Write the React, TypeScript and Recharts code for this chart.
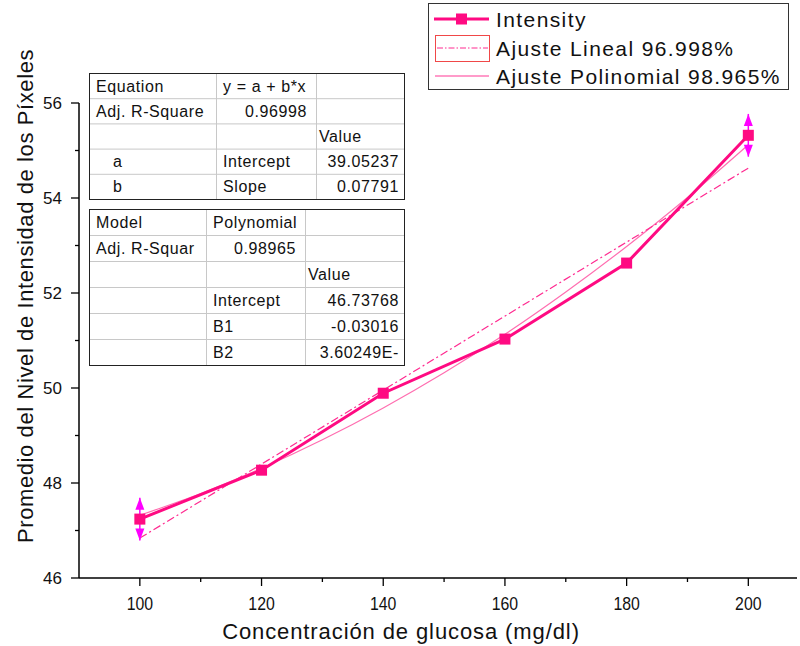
import { ComposedChart, Line, Scatter, XAxis, YAxis, ErrorBar } from 'recharts'

// measured points
const concentrations = [100, 120, 140, 160, 180, 200]
const intensity = [47.24, 48.27, 49.89, 51.03, 52.63, 55.32]

// error bars only shown on the end points
const errorX = [100, 200]
const errorY = [47.24, 55.32]
const errorSize = [0.45, 0.45]

// fits
const linearX = [100, 200]
const linearY = [46.84, 54.63]
const polyX = [100, 110, 120, 130, 140, 150, 160, 170, 180, 190, 200]
const polyY = [47.32, 47.78, 48.31, 48.91, 49.58, 50.32, 51.13, 52.02, 52.98, 54.01, 55.12]

const xTicks = [100, 110, 120, 130, 140, 150, 160, 170, 180, 190, 200]
const yTicks = [46, 47, 48, 49, 50, 51, 52, 53, 54, 55, 56]

const legendLabels = ['Intensity', 'Ajuste Lineal 96.998%', 'Ajuste Polinomial 98.965%']

const linearTable = [
  ['Equation', 'y = a + b*x', ''],
  ['Adj. R-Square', '0.96998', ''],
  ['', '', 'Value'],
  ['a', 'Intercept', '39.05237'],
  ['b', 'Slope', '0.07791'],
]

const polyTable = [
  ['Model', 'Polynomial', ''],
  ['Adj. R-Squar', '0.98965', ''],
  ['', '', 'Value'],
  ['', 'Intercept', '46.73768'],
  ['', 'B1', '-0.03016'],
  ['', 'B2', '3.60249E-'],
]

const PINK = '#FF0A82'
const MAGENTA = '#FF00FF'
const FONT = "'Liberation Sans', Arial, sans-serif"

const dataPoints = concentrations.map((x, i) => ({ x, y: intensity[i] }))
const errorPoints = errorX.map((x, i) => ({ x, y: errorY[i], err: errorSize[i] }))
const arrowUp = errorX.map((x, i) => ({ x, y: errorY[i] + errorSize[i] }))
const arrowDown = errorX.map((x, i) => ({ x, y: errorY[i] - errorSize[i] }))
const linearData = linearX.map((x, i) => ({ x, y: linearY[i] }))
const polyData = polyX.map((x, i) => ({ x, y: polyY[i] }))

function XTick(props: any) {
  const { x, y, payload } = props
  const major = payload.value % 20 === 0
  return (
    <g>
      <line x1={x} y1={y} x2={x} y2={y + (major ? 8 : 4)} stroke="#000" strokeWidth={1.3} />
      {major && (
        <text x={x} y={y + 32} textAnchor="middle" fontSize={18} fill="#111" fontFamily={FONT}
          transform={`translate(${x} 0) scale(0.88 1) translate(${-x} 0)`}>
          {payload.value}
        </text>
      )}
    </g>
  )
}

function YTick(props: any) {
  const { x, y, payload } = props
  const major = payload.value % 2 === 0
  return (
    <g>
      <line x1={x} y1={y} x2={x - (major ? 8 : 4)} y2={y} stroke="#000" strokeWidth={1.3} />
      {major && (
        <text x={x - 17} y={y + 6} textAnchor="end" fontSize={17} fill="#111" fontFamily={FONT}>
          {payload.value}
        </text>
      )}
    </g>
  )
}

function SquareDot(props: any) {
  const { cx, cy } = props
  if (cx == null || cy == null) return null
  return <rect x={cx - 5.5} y={cy - 5.5} width={11} height={11} fill={PINK} />
}

function ArrowUp(props: any) {
  const { cx, cy } = props
  return <polygon points={`${cx},${cy} ${cx - 4.5},${cy + 12} ${cx + 4.5},${cy + 12}`} fill={MAGENTA} />
}

function ArrowDown(props: any) {
  const { cx, cy } = props
  return <polygon points={`${cx},${cy} ${cx - 4.5},${cy - 12} ${cx + 4.5},${cy - 12}`} fill={MAGENTA} />
}

function StatsTable({ rows, left, top, cols, rowH }: { rows: string[][]; left: number; top: number; cols: number[]; rowH: number }) {
  const edges = [left, ...cols]
  const right = edges[edges.length - 1]
  const bottom = top + rowH * rows.length
  return (
    <g fontFamily={FONT} fontSize={16} fill="#111" letterSpacing={0.6}>
      <rect x={left + 0.5} y={top + 0.5} width={right - left} height={bottom - top} fill="#fff" stroke="#222" />
      {rows.slice(1).map((_, i) => (
        <line key={'h' + i} x1={left + 1} x2={right} y1={top + rowH * (i + 1) + 0.5} y2={top + rowH * (i + 1) + 0.5} stroke="#c8c8c8" />
      ))}
      {cols.slice(0, -1).map((c, i) => (
        <line key={'v' + i} x1={c + 0.5} x2={c + 0.5} y1={top + 1} y2={bottom} stroke="#c8c8c8" />
      ))}
      {rows.map((row, r) =>
        row.map((cell, c) => {
          if (!cell) return null
          const cy = top + rowH * r + rowH / 2 + 6
          const numeric = /^-?[0-9]/.test(cell)
          const indent = c === 0 && cell.length === 1
          const x = numeric ? edges[c + 1] - (c === 2 ? 5 : 9) : edges[c] + (indent ? 24 : c === 2 ? 3 : 7)
          return (
            <text key={r + '-' + c} x={x} y={cy} textAnchor={numeric ? 'end' : 'start'}>
              {cell}
            </text>
          )
        })
      )}
    </g>
  )
}

function LegendBox() {
  const textX = 496
  const rows = [19, 48, 76]
  return (
    <g fontFamily={FONT} fontSize={21} fill="#111" letterSpacing={1.4}>
      <rect x={428.5} y={3.5} width={360} height={86} fill="#fff" stroke="#333" />
      <line x1={434} x2={489} y1={rows[0]} y2={rows[0]} stroke={PINK} strokeWidth={3} />
      <rect x={456} y={rows[0] - 5.5} width={11} height={11} fill={PINK} />
      <rect x={435.5} y={35.5} width={54} height={26} fill="#fff" stroke="#F04848" />
      <line x1={437} x2={488} y1={rows[1]} y2={rows[1]} stroke="#FF2A90" strokeDasharray="6 2 1.5 2" />
      <line x1={435} x2={489} y1={rows[2]} y2={rows[2]} stroke="#FF7AB8" strokeWidth={1.5} />
      {legendLabels.map((t, i) => (
        <text key={t} x={textX} y={rows[i] + 7.5}>{t}</text>
      ))}
    </g>
  )
}

export default function App() {
  return (
    <div style={{ position: 'absolute', left: 0, top: 0, width: 800, height: 646, background: '#fff' }}>
      <ComposedChart width={800} height={646} margin={{ top: 103, right: 3, bottom: 0, left: 0 }}>
        <XAxis
          type="number"
          dataKey="x"
          domain={[90, 208]}
          ticks={xTicks}
          interval={0}
          height={68}
          tickSize={0}
          tickMargin={0}
          tick={<XTick />}
          stroke="#000"
          strokeWidth={1.5}
          allowDataOverflow
        />
        <YAxis
          type="number"
          dataKey="y"
          domain={[46, 56]}
          ticks={yTicks}
          interval={0}
          width={79}
          tickSize={0}
          tickMargin={0}
          tick={<YTick />}
          stroke="#000"
          strokeWidth={1.5}
          allowDataOverflow
        />
        <Line
          data={polyData}
          dataKey="y"
          type="natural"
          stroke="#FF6EB0"
          strokeWidth={1.2}
          dot={false}
          isAnimationActive={false}
        />
        <Line
          data={linearData}
          dataKey="y"
          type="linear"
          stroke="#FF2A90"
          strokeWidth={1.2}
          strokeDasharray="8 3 2 3"
          dot={false}
          isAnimationActive={false}
        />
        <Line
          data={dataPoints}
          dataKey="y"
          name="Intensity"
          type="linear"
          stroke={PINK}
          strokeWidth={3}
          dot={<SquareDot />}
          isAnimationActive={false}
        />
        <Scatter data={errorPoints} dataKey="y" shape={() => <g />} isAnimationActive={false}>
          <ErrorBar dataKey="err" direction="y" width={0} stroke={MAGENTA} strokeWidth={1.5} />
        </Scatter>
        <Scatter data={arrowUp} dataKey="y" shape={<ArrowUp />} isAnimationActive={false} />
        <Scatter data={arrowDown} dataKey="y" shape={<ArrowDown />} isAnimationActive={false} />
      </ComposedChart>
      <svg width={800} height={646} style={{ position: 'absolute', left: 0, top: 0, pointerEvents: 'none' }}>
        <text
          transform="translate(33 296) rotate(-90)"
          textAnchor="middle"
          fontFamily={FONT}
          fontSize={22}
          letterSpacing={0.6}
          fill="#111"
        >
          Promedio del Nivel de Intensidad de los Píxeles
        </text>
        <text x={401} y={639} textAnchor="middle" fontFamily={FONT} fontSize={22} letterSpacing={0.9} fill="#111">
          Concentración de glucosa (mg/dl)
        </text>
        <LegendBox />
        <StatsTable rows={linearTable} left={89} top={73} cols={[216, 316, 404]} rowH={25.2} />
        <StatsTable rows={polyTable} left={89} top={209} cols={[206, 305, 404]} rowH={26} />
      </svg>
    </div>
  )
}
